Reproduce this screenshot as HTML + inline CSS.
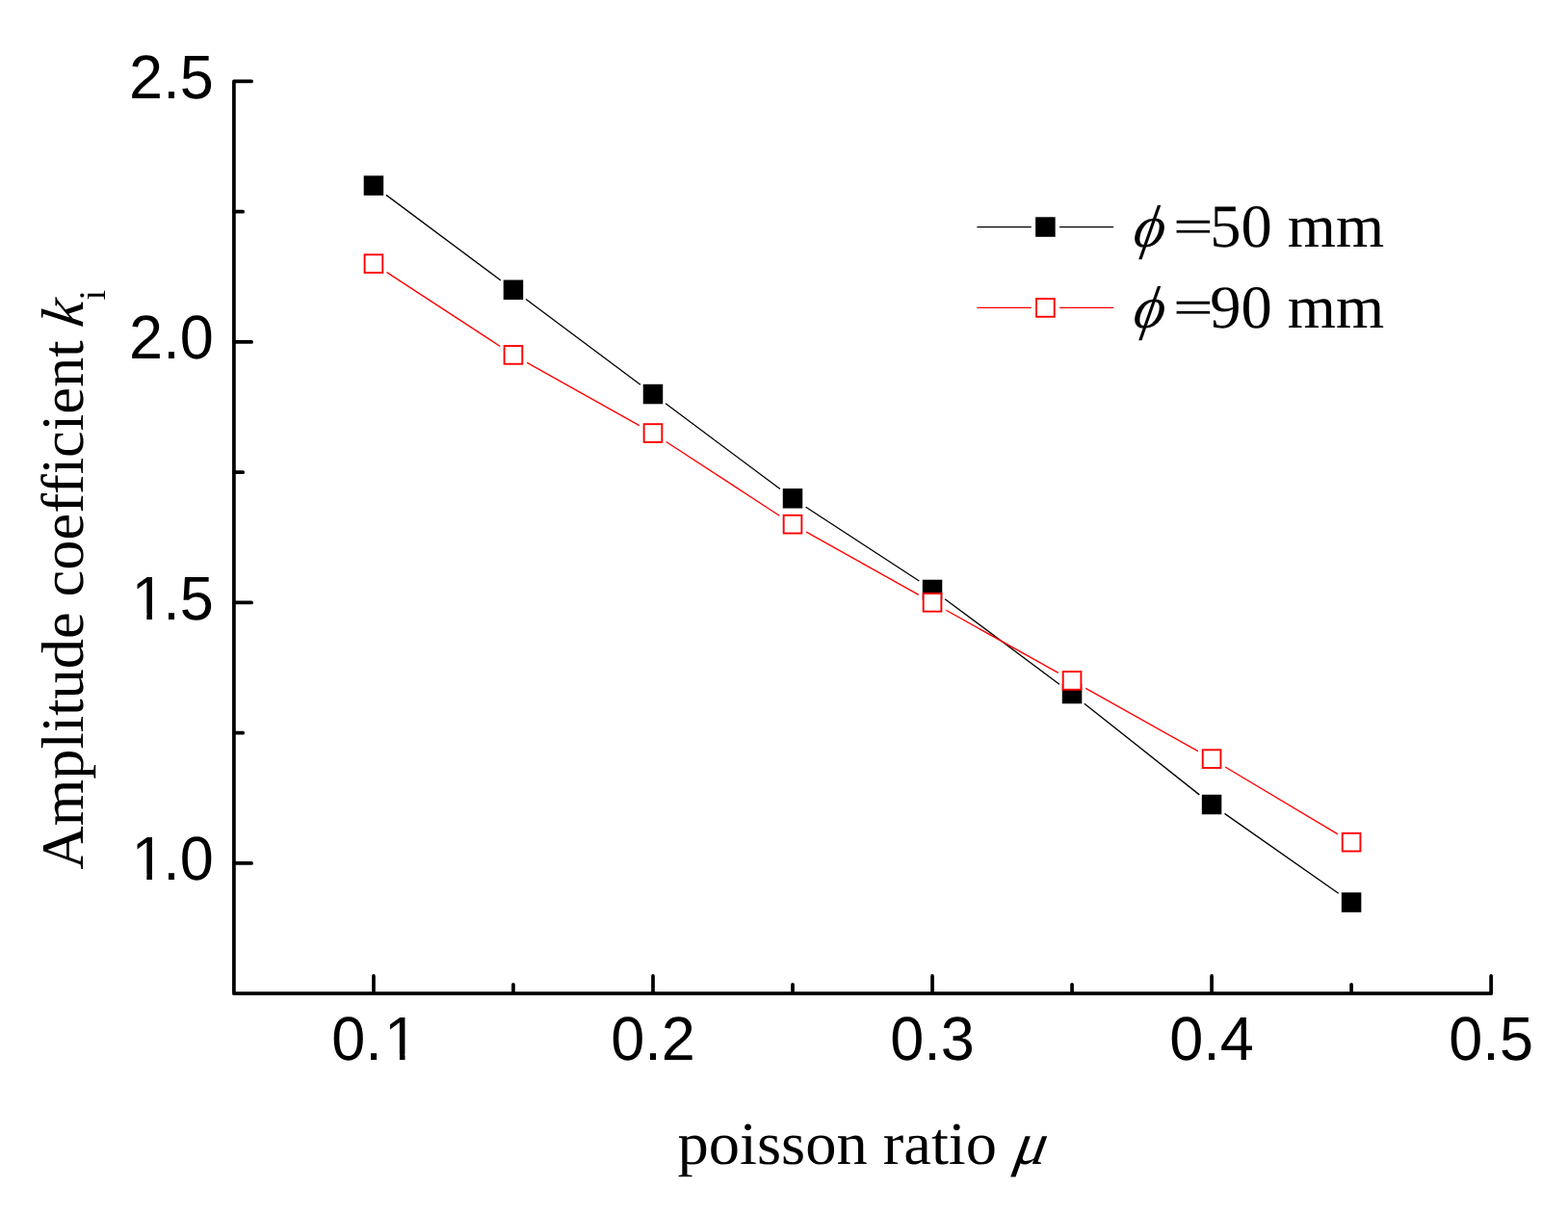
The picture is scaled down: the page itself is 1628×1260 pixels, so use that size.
<!DOCTYPE html>
<html><head><meta charset="utf-8"><title>Amplitude coefficient vs poisson ratio</title>
<style>html,body{margin:0;padding:0;background:#fff;width:1628px;height:1260px;overflow:hidden}svg{display:block}text{text-rendering:geometricPrecision}</style></head><body>
<svg width="1628" height="1260" viewBox="0 0 1628 1260">
<rect width="1628" height="1260" fill="#fff"/>
<path d="M261.10 84.40H242.90V1031.15H1548.13V1012.95" fill="none" stroke="#000" stroke-width="3.7" stroke-linejoin="round" stroke-linecap="round"/>
<path d="M242.90 354.90h18.2M242.90 625.40h18.2M242.90 895.90h18.2M242.90 219.65h9.3M242.90 490.15h9.3M242.90 760.65h9.3M387.93 1031.15v-18.2M677.98 1031.15v-18.2M968.02 1031.15v-18.2M1258.08 1031.15v-18.2M532.95 1031.15v-9.3M823.00 1031.15v-9.3M1113.05 1031.15v-9.3M1403.10 1031.15v-9.3" fill="none" stroke="#000" stroke-width="3.7" stroke-linecap="round"/>
<g font-family="'Liberation Sans', Arial, sans-serif" font-size="63" fill="#000">
<text x="134.11 169.15 186.65" y="101.60" transform="translate(0 101.60) scale(1 1.016) translate(0 -101.60)">2.5</text>
<text x="134.11 169.15 186.65" y="372.10" transform="translate(0 372.10) scale(1 1.016) translate(0 -372.10)">2.0</text>
<text x="136.51 169.15 186.65" y="642.60" transform="translate(0 642.60) scale(1 1.016) translate(0 -642.60)">1.5</text>
<text x="136.51 169.15 186.65" y="913.10" transform="translate(0 913.10) scale(1 1.016) translate(0 -913.10)">1.0</text>
<text x="344.14 379.17 399.08" y="1100.00" transform="translate(0 1100.00) scale(1 1.016) translate(0 -1100.00)">0.1</text>
<text x="634.19 669.22 686.73" y="1100.00" transform="translate(0 1100.00) scale(1 1.016) translate(0 -1100.00)">0.2</text>
<text x="924.24 959.27 976.78" y="1100.00" transform="translate(0 1100.00) scale(1 1.016) translate(0 -1100.00)">0.3</text>
<text x="1214.29 1249.32 1266.83" y="1100.00" transform="translate(0 1100.00) scale(1 1.016) translate(0 -1100.00)">0.4</text>
<text x="1504.34 1539.37 1556.88" y="1100.00" transform="translate(0 1100.00) scale(1 1.016) translate(0 -1100.00)">0.5</text>
</g>
<rect x="140.11" y="636.62" width="12.24" height="7.18" fill="#fff"/>
<rect x="157.92" y="636.62" width="11.75" height="7.18" fill="#fff"/>
<rect x="140.11" y="907.12" width="12.24" height="7.18" fill="#fff"/>
<rect x="157.92" y="907.12" width="11.75" height="7.18" fill="#fff"/>
<rect x="402.68" y="1094.02" width="12.24" height="7.18" fill="#fff"/>
<rect x="420.49" y="1094.02" width="11.75" height="7.18" fill="#fff"/>
<path d="M400.99 202.35L519.89 291.05M546.01 310.55L664.91 399.30M691.04 418.80L809.94 507.55M836.65 526.21L954.37 603.04M981.09 621.69L1099.98 710.31M1125.82 730.17L1245.30 824.88M1271.43 844.35L1389.75 927.20" fill="none" stroke="#000" stroke-width="1.35"/>
<rect x="378.43" y="183.10" width="19.0" height="19.0" fill="#000" stroke="#000" stroke-width="1.5"/>
<rect x="523.45" y="291.30" width="19.0" height="19.0" fill="#000" stroke="#000" stroke-width="1.5"/>
<rect x="668.48" y="399.55" width="19.0" height="19.0" fill="#000" stroke="#000" stroke-width="1.5"/>
<rect x="813.50" y="507.80" width="19.0" height="19.0" fill="#000" stroke="#000" stroke-width="1.5"/>
<rect x="958.52" y="602.45" width="19.0" height="19.0" fill="#000" stroke="#000" stroke-width="1.5"/>
<rect x="1103.55" y="710.55" width="19.0" height="19.0" fill="#000" stroke="#000" stroke-width="1.5"/>
<rect x="1248.58" y="825.50" width="19.0" height="19.0" fill="#000" stroke="#000" stroke-width="1.5"/>
<rect x="1393.60" y="927.05" width="19.0" height="19.0" fill="#000" stroke="#000" stroke-width="1.5"/>
<path d="M401.57 282.57L519.30 359.48M547.17 376.36L663.75 441.59M691.63 458.46L809.35 535.24M837.22 552.11L953.80 617.34M982.25 633.26L1098.82 698.44M1127.27 714.37L1243.85 779.68M1272.07 796.00L1389.10 865.80" fill="none" stroke="#f00" stroke-width="1.35"/>
<rect x="378.57" y="264.30" width="18.7" height="18.7" fill="#fff" stroke="#f00" stroke-width="1.9"/>
<rect x="523.60" y="359.05" width="18.7" height="18.7" fill="#fff" stroke="#f00" stroke-width="1.9"/>
<rect x="668.62" y="440.20" width="18.7" height="18.7" fill="#fff" stroke="#f00" stroke-width="1.9"/>
<rect x="813.65" y="534.80" width="18.7" height="18.7" fill="#fff" stroke="#f00" stroke-width="1.9"/>
<rect x="958.67" y="615.95" width="18.7" height="18.7" fill="#fff" stroke="#f00" stroke-width="1.9"/>
<rect x="1103.70" y="697.05" width="18.7" height="18.7" fill="#fff" stroke="#f00" stroke-width="1.9"/>
<rect x="1248.73" y="778.30" width="18.7" height="18.7" fill="#fff" stroke="#f00" stroke-width="1.9"/>
<rect x="1393.75" y="864.80" width="18.7" height="18.7" fill="#fff" stroke="#f00" stroke-width="1.9"/>
<path d="M1014.4 235.55H1070.8M1100 235.55H1156.2" stroke="#000" stroke-width="1.35"/>
<rect x="1075.90" y="226.05" width="19.0" height="19.0" fill="#000" stroke="#000" stroke-width="1.5"/>
<text transform="translate(1175.10 255.80) skewX(-9.8)" font-family="'Liberation Serif', 'Times New Roman', serif" font-style="italic" font-size="62">&#x3d5;</text>
<text transform="translate(1238.95 235.40) scale(1.135 0.78)" x="-18.22" y="21.42" font-family="'Liberation Serif', 'Times New Roman', serif" font-size="64.5" stroke="#000" stroke-width="0.38">=</text>
<text transform="translate(1256.15 255.80) scale(1 0.98)" font-family="'Liberation Serif', 'Times New Roman', serif" font-size="64.5">50 mm</text>
<path d="M1014.4 319.40H1070.8M1100 319.40H1156.2" stroke="#f00" stroke-width="1.35"/>
<rect x="1076.05" y="310.05" width="18.7" height="18.7" fill="#fff" stroke="#f00" stroke-width="1.9"/>
<text transform="translate(1175.10 340.10) skewX(-9.8)" font-family="'Liberation Serif', 'Times New Roman', serif" font-style="italic" font-size="62">&#x3d5;</text>
<text transform="translate(1238.95 319.70) scale(1.135 0.78)" x="-18.22" y="21.42" font-family="'Liberation Serif', 'Times New Roman', serif" font-size="64.5" stroke="#000" stroke-width="0.38">=</text>
<text transform="translate(1256.15 340.10) scale(1 0.98)" font-family="'Liberation Serif', 'Times New Roman', serif" font-size="64.5">90 mm</text>
<text transform="translate(703.56 1208.00) scale(1 0.97)" font-family="'Liberation Serif', 'Times New Roman', serif" font-size="64.5">poisson ratio</text>
<text transform="translate(1051.70 1208.00) scale(1 0.97) skewX(-10)" font-family="'Liberation Serif', 'Times New Roman', serif" font-style="italic" font-size="64.5">&#x3bc;</text>
<text transform="translate(85.8 902.5) rotate(-90) scale(0.969 0.965)" font-family="'Liberation Serif', 'Times New Roman', serif" font-size="64.5">Amplitude coefficient</text>
<text transform="translate(85.8 340.7) rotate(-90) scale(0.969 0.965) skewX(-8)" font-family="'Liberation Serif', 'Times New Roman', serif" font-style="italic" font-size="64.5">k</text>
<text transform="translate(108.9 311.6) rotate(-90) scale(0.969 1)" font-family="'Liberation Serif', 'Times New Roman', serif" font-size="39">i</text>
</svg>
</body></html>
